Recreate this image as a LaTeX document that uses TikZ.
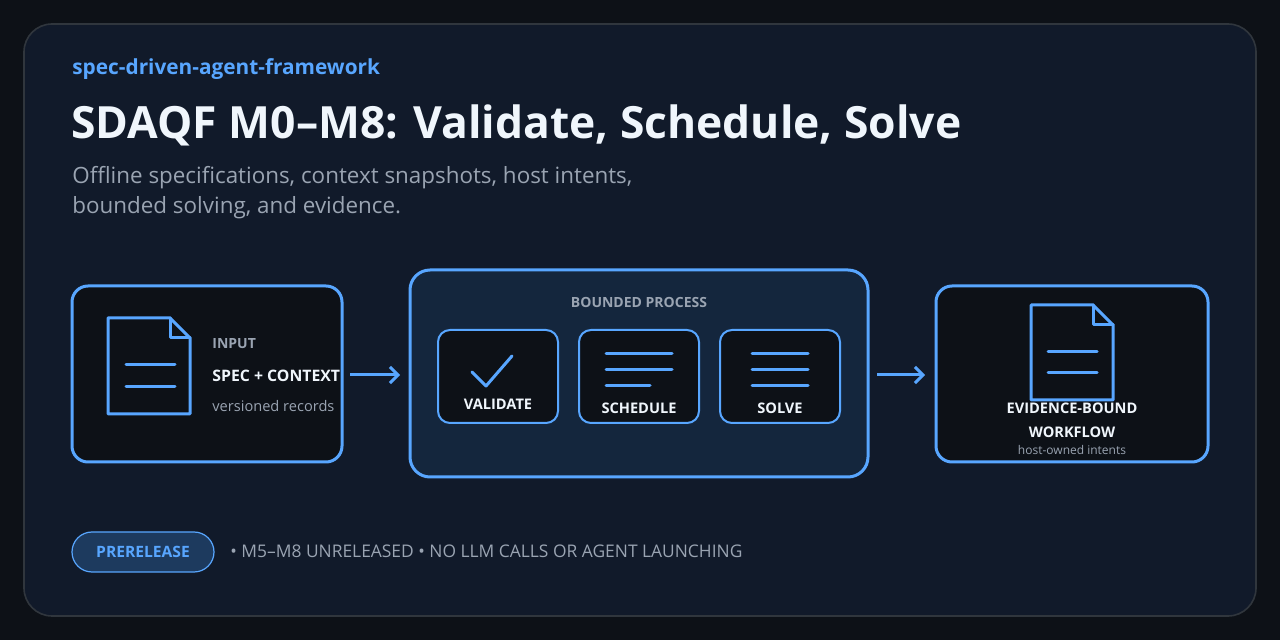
\documentclass[tikz,border=0pt]{standalone}
\usepackage{fontspec}
\setmainfont{Open Sans}
\definecolor{bgo}{HTML}{0D1117}
\definecolor{card}{HTML}{111A2A}
\definecolor{cardb}{HTML}{30363D}
\definecolor{blu}{HTML}{58A6FF}
\definecolor{gr}{HTML}{9AA4B2}
\definecolor{wh}{HTML}{F0F6FC}
\definecolor{mid}{HTML}{14263D}
\definecolor{pill}{HTML}{1D3A5E}
\begin{document}
\begin{tikzpicture}[x=0.5pt,y=-0.5pt,
 box/.style={draw=blu,line width=1.5pt,fill=bgo,rounded corners=8pt},
 sub/.style={draw=blu,line width=1pt,fill=bgo,rounded corners=6pt},
 ic/.style={draw=blu,line width=1.5pt,line cap=round,line join=round},
 arr/.style={draw=blu,line width=1.5pt,-{Straight Barb[length=4pt,width=8pt]}},
 lab/.style={text=wh,font=\bfseries\fontsize{7.3}{9}\selectfont,inner sep=0}]
\usetikzlibrary{arrows.meta}
\fill[bgo] (0,0) rectangle (1280,640);
\draw[fill=card,draw=cardb,line width=0.8pt,rounded corners=14pt] (24,24) rectangle (1256,616);
\node[anchor=west,inner sep=0,text=blu,font=\bfseries\fontsize{10.4}{12}\selectfont] (tag) at (72,69) {spec-driven-agent-framework};
\node[anchor=west,inner sep=0,text=wh,font=\bfseries\fontsize{22.2}{26}\selectfont] (title) at (71,125) {SDAQF M0–M8: Validate, Schedule, Solve};
\node[anchor=north west,inner sep=0,text=gr,align=left,font=\fontsize{11.2}{15}\selectfont] (subt) at (72,166) {Offline specifications, context snapshots, host intents,\\bounded solving, and evidence.};
% input
\draw[box] (72,286) rectangle (342,462);
\coordinate (inR) at (350,375);
\draw[ic] (108,318) -- (170,318) -- (190,338) -- (190,414) -- (108,414) -- cycle;
\draw[ic] (170,318) -- (170,338) -- (190,338);
\draw[ic] (126,365) -- (175,365) (126,387) -- (175,387);
\node[anchor=west,inner sep=0,text=gr,font=\bfseries\fontsize{7}{8}\selectfont] (inl) at (212,344) {INPUT};
\node[anchor=west,lab,font=\bfseries\fontsize{7.9}{9}\selectfont] (inm) at (212,376) {SPEC + CONTEXT};
\node[anchor=west,inner sep=0,text=gr,font=\fontsize{7.3}{9}\selectfont] (ins) at (212,406) {versioned records};
% middle
\draw[draw=blu,line width=1.5pt,fill=mid,rounded corners=10pt] (410,270) rectangle (868,477);
\coordinate (mL) at (400,375);
\coordinate (mR) at (877,375);
\node[inner sep=0,text=gr,font=\bfseries\fontsize{7}{8}\selectfont] (bp) at (639,302) {BOUNDED PROCESS};
\draw[sub] (438,330) rectangle (558,423);
\draw[sub] (579,330) rectangle (699,423);
\draw[sub] (720,330) rectangle (840,423);
\draw[ic] (472,372) -- (486,386) -- (512,356);
\node[lab] (v) at (498,404) {VALIDATE};
\draw[ic] (606,354) -- (672,354) (606,370) -- (672,370) (606,386) -- (650,386);
\node[lab] (sc) at (639,408) {SCHEDULE};
\draw[ic] (752,354) -- (808,354) (752,370) -- (808,370) (752,386) -- (808,386);
\node[lab] (so) at (780,408) {SOLVE};
\draw[arr] (inR) -- (mL);
% right
\draw[box] (936,286) rectangle (1208,462);
\coordinate (oL) at (925,375);
\draw[arr] (mR) -- (oL);
\draw[ic] (1031,305) -- (1093,305) -- (1113,325) -- (1113,400) -- (1031,400) -- cycle;
\draw[ic] (1093,305) -- (1093,325) -- (1113,325);
\draw[ic] (1048,352) -- (1097,352) (1048,373) -- (1097,373);
\node[lab] (e1) at (1072,408) {EVIDENCE-BOUND};
\node[lab] (e2) at (1072,432) {WORKFLOW};
\node[inner sep=0,text=gr,font=\fontsize{6}{7}\selectfont] (e3) at (1072,450) {host-owned intents};
% footer
\draw[draw=blu,line width=0.6pt,fill=pill,rounded corners=10pt] (72,532) rectangle (214,572);
\node[inner sep=0,text=blu,font=\bfseries\fontsize{7.8}{9}\selectfont] (pr) at (143,552) {PRERELEASE};
\node[anchor=west,inner sep=0,text=gr,font=\fontsize{8.7}{10}\selectfont] (ft) at (230,551) {• M5–M8 UNRELEASED • NO LLM CALLS OR AGENT LAUNCHING};
\end{tikzpicture}
\end{document}
